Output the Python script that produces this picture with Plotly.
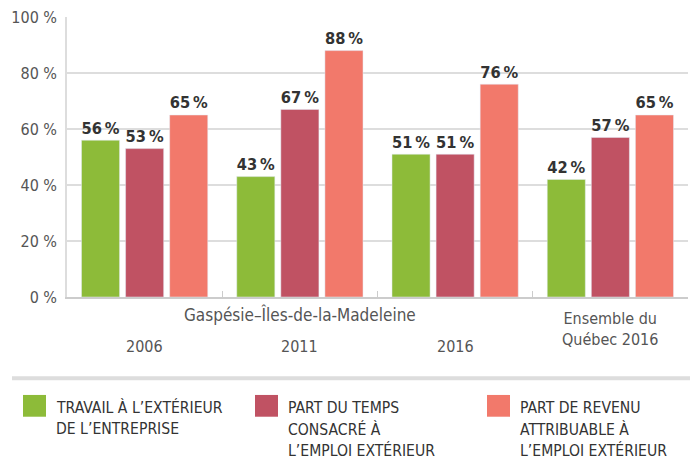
import plotly.graph_objects as go

categories = ["2006", "2011", "2016", "Ensemble du<br>Québec 2016"]
series_names = [
    "TRAVAIL À L’EXTÉRIEUR<br>DE L’ENTREPRISE",
    "PART DU TEMPS<br>CONSACRÉ À<br>L’EMPLOI EXTÉRIEUR",
    "PART DE REVENU<br>ATTRIBUABLE À<br>L’EMPLOI EXTÉRIEUR",
]
travail = [56, 43, 51, 42]
temps = [53, 67, 51, 57]
revenu = [65, 88, 76, 65]
series_values = [travail, temps, revenu]
colors = ["#8DBB39", "#C05263", "#F2796B"]
y_ticks = [0, 20, 40, 60, 80, 100]
region_label = "Gaspésie–Îles-de-la-Madeleine"

FONT = "DejaVu Sans Condensed, Liberation Sans Narrow, Roboto, sans-serif"
L, T, W, H = 67, 14, 621, 283  # plot area in px


def px_x(px):
    return (px - L) / W


def px_y(py):
    return (T + H - py) / H


fig = go.Figure()
for name, vals, col in zip(series_names, series_values, colors):
    fig.add_trace(go.Bar(
        x=categories, y=vals, name=name, marker_color=col,
        text=[f"{v}\u202f%" for v in vals], textposition="outside",
        textfont=dict(family=FONT, size=18, color="#333333"),
        texttemplate="<b>%{text}</b>",
        cliponaxis=False, showlegend=False,
    ))

fig.update_layout(
    width=696, height=461,
    margin=dict(l=L, r=696 - L - W, t=T, b=461 - T - H),
    paper_bgcolor="white", plot_bgcolor="white",
    barmode="group", bargap=0.148, bargroupgap=0.136,
    font=dict(family=FONT, color="#555555"),
)
fig.update_yaxes(
    range=[0, 100], tickvals=y_ticks, ticktext=[f"{t} %" for t in y_ticks],
    tickfont=dict(family=FONT, size=16, color="#555555"),
    showgrid=True, gridcolor="#dddddd", gridwidth=1.5,
    showline=True, linecolor="#dddddd", linewidth=1.5,
    zeroline=False, ticks="", ticklabelstandoff=5,
)
fig.update_xaxes(
    type="category", range=[-0.5, len(categories) - 0.5],
    showticklabels=False, showline=True, linecolor="#cccccc", linewidth=2,
    tickson="boundaries", ticks="inside", ticklen=6, tickcolor="#cccccc",
)

# category labels
for i, c in enumerate(categories):
    yc = 329 if "<br>" in c else 347
    fig.add_annotation(x=i, xref="x", y=px_y(yc), yref="paper", text=c,
                       showarrow=False, yanchor="middle",
                       font=dict(family=FONT, size=16, color="#555555"))
fig.add_annotation(x=1, xref="x", y=px_y(315), yref="paper",
                   text=region_label, showarrow=False, yanchor="middle",
                   font=dict(family=FONT, size=17, color="#555555"))

# separator line
fig.add_shape(type="line", xref="paper", yref="paper",
              x0=px_x(12), x1=px_x(690), y0=px_y(379), y1=px_y(379),
              line=dict(color="#dddddd", width=4))

# custom legend
leg_x = [23, 255, 487]
for lx, name, col in zip(leg_x, series_names, colors):
    fig.add_shape(type="rect", xref="paper", yref="paper",
                  x0=px_x(lx), x1=px_x(lx + 23), y0=px_y(396), y1=px_y(418),
                  line=dict(width=0), fillcolor=col)
    for k, line in enumerate(name.split("<br>")):
        fig.add_annotation(x=px_x(lx + 31), xref="paper",
                           y=px_y(409 + 21.5 * k), yref="paper",
                           text=line, showarrow=False, xanchor="left",
                           yanchor="middle", align="left",
                           font=dict(family=FONT, size=15.6, color="#333333"))

fig.write_html("out.html")
